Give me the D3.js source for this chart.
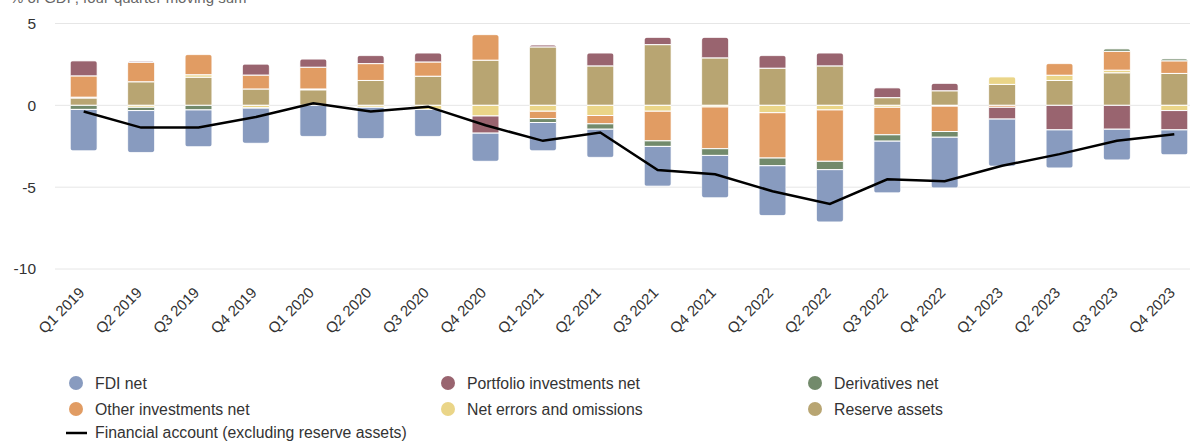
<!DOCTYPE html>
<html>
<head>
<meta charset="utf-8">
<script src="https://cdn.jsdelivr.net/npm/d3@7"></script>
<style>
  body { margin: 0; background: #fff; }
  svg { display: block; font-family: "Liberation Sans", Arial, sans-serif; }
</style>
</head>
<body>
<svg id="chart" width="1190" height="441"></svg>
<script>
const quarters = ['Q1 2019','Q2 2019','Q3 2019','Q4 2019','Q1 2020','Q2 2020','Q3 2020','Q4 2020',
  'Q1 2021','Q2 2021','Q3 2021','Q4 2021','Q1 2022','Q2 2022','Q3 2022','Q4 2022',
  'Q1 2023','Q2 2023','Q3 2023','Q4 2023'];

const fdi = [-2.53,-2.56,-2.25,-2.15,-1.9,-1.91,-1.65,-1.72,-1.73,-1.72,-2.43,-2.59,-3.04,-3.2,-3.16,-3.1,-2.88,-2.33,-1.88,-1.52];
const portfolio = [0.92,0.07,0,0.67,0.5,0.49,0.55,-1.05,0.12,0.79,0.44,1.25,0.77,0.79,0.6,0.45,-0.72,-1.5,-1.46,-1.18];
const derivatives = [-0.25,-0.2,-0.28,-0.02,0,0,0,0,-0.24,-0.33,-0.34,-0.41,-0.47,-0.51,-0.39,-0.35,0,0,0.15,0.12];
const otherInv = [1.3,1.19,1.23,0.85,1.33,1.03,0.87,1.56,-0.45,-0.51,-1.81,-2.55,-2.77,-3.14,-1.68,-1.55,-0.12,0.71,1.15,0.77];
const errors = [0.05,-0.12,0.15,-0.15,0.05,-0.12,-0.25,-0.65,-0.36,-0.62,-0.36,-0.1,-0.45,-0.28,-0.12,-0.05,0.46,0.32,0.16,-0.32];
const reserve = [0.45,1.44,1.72,1.0,0.95,1.52,1.78,2.76,3.57,2.41,3.71,2.9,2.27,2.41,0.47,0.89,1.28,1.52,1.99,1.95];
const financialAccount = [-0.38,-1.36,-1.36,-0.71,0.12,-0.38,-0.08,-1.22,-2.17,-1.66,-3.95,-4.21,-5.25,-6.02,-4.52,-4.64,-3.69,-2.98,-2.17,-1.76];

const yTicks = [5, 0, -5, -10];

const series = [
  {key: 'fdi', name: 'FDI net', color: '#889bbf', values: fdi},
  {key: 'portfolio', name: 'Portfolio investments net', color: '#99646f', values: portfolio},
  {key: 'derivatives', name: 'Derivatives net', color: '#728a6b', values: derivatives},
  {key: 'other', name: 'Other investments net', color: '#e19c63', values: otherInv},
  {key: 'errors', name: 'Net errors and omissions', color: '#ead588', values: errors},
  {key: 'reserve', name: 'Reserve assets', color: '#b8a572', values: reserve}
];

const rows = quarters.map((q, i) => {
  const r = {q};
  series.forEach(s => r[s.key] = s.values[i]);
  return r;
});

// stacked from zero outward: last legend series sits closest to zero
const stackKeys = series.map(s => s.key).reverse();
const stacked = d3.stack().keys(stackKeys).offset(d3.stackOffsetDiverging)(rows);
const colorOf = Object.fromEntries(series.map(s => [s.key, s.color]));

const svg = d3.select('#chart');
const plotLeft = 55, plotTop = 23.5, plotBottom = 269;

const x = d3.scaleBand().domain(quarters).range([plotLeft, plotLeft + 1148]).paddingInner(0.53).paddingOuter(0.265);
const y = d3.scaleLinear().domain([-10, 5]).range([plotBottom, plotTop]);

// title (partly cut off at top, as in the source)
svg.append('text').attr('x', 10).attr('y', 3)
  .attr('font-size', 15).attr('fill', '#666')
  .text('% of GDP, four-quarter moving sum');

// gridlines
svg.append('g').selectAll('line').data(yTicks).join('line')
  .attr('x1', plotLeft).attr('x2', 1190)
  .attr('y1', d => y(d)).attr('y2', d => y(d))
  .attr('stroke', '#e6e6e6').attr('stroke-width', 1);

svg.append('g').selectAll('text').data(yTicks).join('text')
  .attr('x', 36).attr('y', d => y(d)).attr('dy', '0.35em')
  .attr('text-anchor', 'end').attr('font-size', 15.5).attr('fill', '#333')
  .text(d => d);

// per-bar clip paths for rounded outer ends
const defs = svg.append('defs');
rows.forEach((r, i) => {
  let lo = 0, hi = 0;
  stacked.forEach(s => { lo = Math.min(lo, s[i][0], s[i][1]); hi = Math.max(hi, s[i][0], s[i][1]); });
  defs.append('clipPath').attr('id', 'clip' + i)
    .append('rect')
    .attr('x', x(r.q)).attr('width', x.bandwidth())
    .attr('y', y(hi)).attr('height', y(lo) - y(hi))
    .attr('rx', 4);
});

const bars = svg.append('g');
stacked.forEach(s => {
  bars.append('g').attr('fill', colorOf[s.key])
    .selectAll('rect').data(s.filter(d => d[1] !== d[0])).join('rect')
    .attr('clip-path', d => 'url(#clip' + quarters.indexOf(d.data.q) + ')')
    .attr('x', d => x(d.data.q))
    .attr('width', x.bandwidth())
    .attr('y', d => y(Math.max(d[0], d[1])))
    .attr('height', d => Math.abs(y(d[0]) - y(d[1])))
    .attr('stroke', '#fff').attr('stroke-width', 1);
});

// financial account line
const line = d3.line()
  .x((d, i) => x(quarters[i]) + x.bandwidth() / 2)
  .y(d => y(d));
svg.append('path').datum(financialAccount)
  .attr('d', line).attr('fill', 'none')
  .attr('stroke', '#000').attr('stroke-width', 2.5);

// x labels
svg.append('g').selectAll('text').data(quarters).join('text')
  .attr('transform', d => `translate(${x(d) + x.bandwidth() / 2 - 2},${plotBottom + 21}) rotate(-45)`)
  .attr('text-anchor', 'end').attr('dy', '0.35em')
  .attr('font-size', 15).attr('fill', '#333')
  .text(d => d);

// legend
const legendCols = [76, 448, 815];
const legend = svg.append('g');
series.forEach((s, i) => {
  const lx = legendCols[i % 3], ly = 383 + Math.floor(i / 3) * 26;
  legend.append('circle').attr('cx', lx).attr('cy', ly).attr('r', 7).attr('fill', s.color);
  legend.append('text').attr('x', lx + 19).attr('y', ly).attr('dy', '0.35em')
    .attr('font-size', 15.8).attr('fill', '#333').text(s.name);
});
legend.append('line').attr('x1', 66).attr('x2', 87).attr('y1', 433).attr('y2', 433)
  .attr('stroke', '#000').attr('stroke-width', 2.5);
legend.append('text').attr('x', 95).attr('y', 432).attr('dy', '0.35em')
  .attr('font-size', 15.8).attr('fill', '#333').text('Financial account (excluding reserve assets)');
</script>
</body>
</html>
